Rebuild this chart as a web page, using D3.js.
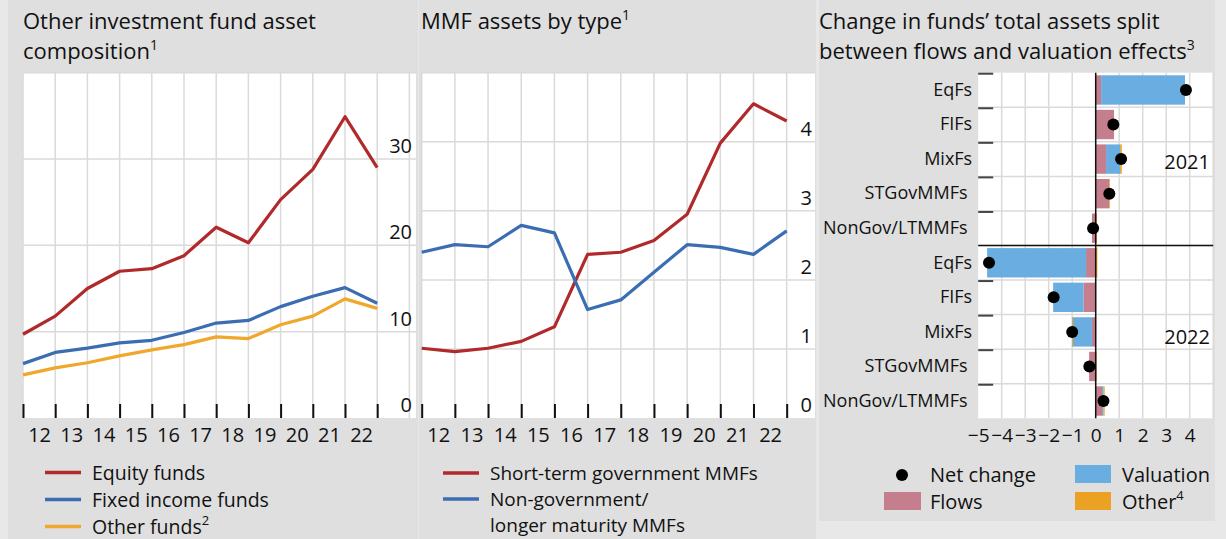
<!DOCTYPE html>
<html>
<head>
<meta charset="utf-8">
<script src="https://cdn.jsdelivr.net/npm/d3@7"></script>
<style>
  body { margin: 0; background: #e8e8e8; }
  svg text { font-family: "Open Sans", sans-serif; fill: #111; }
</style>
</head>
<body>
<script>
// year labels (12 points = end 2011 .. end 2022, labels sit between them)
const years = ['12', '13', '14', '15', '16', '17', '18', '19', '20', '21', '22']

// panel 1, USD trn
const equityFunds = [9.7, 11.8, 15.0, 17.0, 17.3, 18.8, 22.1, 20.3, 25.3, 28.8, 34.9, 29.0]
const fixedIncomeFunds = [6.3, 7.6, 8.1, 8.7, 9.0, 9.9, 11.0, 11.3, 12.9, 14.1, 15.1, 13.3]
const otherFunds = [5.0, 5.8, 6.4, 7.2, 7.9, 8.5, 9.4, 9.2, 10.8, 11.8, 13.8, 12.7]
const ticks1 = [0, 10, 20, 30]

// panel 2, USD trn
const stGovMMFs = [1.01, 0.96, 1.01, 1.11, 1.32, 2.37, 2.40, 2.57, 2.95, 3.98, 4.55, 4.30]
const nonGovMMFs = [2.40, 2.51, 2.48, 2.79, 2.68, 1.57, 1.71, 2.11, 2.51, 2.47, 2.37, 2.71]
const ticks2 = [0, 1, 2, 3, 4]

// panel 3, USD trn
const fundTypes = ['EqFs', 'FIFs', 'MixFs', 'STGovMMFs ', 'NonGov/LTMMFs ']
const flows2021 = [0.23, 0.78, 0.44, 0.58, -0.16]
const valuation2021 = [3.57, 0, 0.60, 0, 0]
const other2021 = [0, 0, 0.07, 0.03, 0.05]
const net2021 = [3.84, 0.75, 1.08, 0.58, -0.11]
const flows2022 = [-0.41, -0.52, -0.16, -0.28, 0.27]
const valuation2022 = [-4.21, -1.29, -0.81, 0, 0.06]
const other2022 = [0.07, 0, -0.04, 0.04, 0.05]
const net2022 = [-4.54, -1.79, -1.0, -0.27, 0.33]
const ticks3 = [-5, -4, -3, -2, -1, 0, 1, 2, 3, 4]

const red = '#b0292b', blue = '#3a6db2', orange = '#f0a82c'
const cFlows = '#c47e8e', cVal = '#6aade0', cOther = '#eba124'
const grid = '#dadada'

const svg = d3.select('body').append('svg')
  .attr('width', 1226).attr('height', 539)

svg.append('rect').attr('width', 1226).attr('height', 539).attr('fill', '#e8e8e8')
svg.append('rect').attr('x', 8).attr('y', 0).attr('width', 410).attr('height', 539).attr('fill', '#dfdfdf')
svg.append('rect').attr('x', 419).attr('y', 0).attr('width', 397).attr('height', 539).attr('fill', '#dfdfdf')
svg.append('rect').attr('x', 819).attr('y', 0).attr('width', 396).attr('height', 521).attr('fill', '#dfdfdf')

// titles: one text per line
function title(x, lines, sup) {
  lines.forEach((l, i) => {
    const t = svg.append('text').attr('x', x).attr('y', 29 + i * 30).style('font-size', '22px').text(l)
    if (i === lines.length - 1) {
      t.append('tspan').attr('dy', -9).style('font-size', '14px').text(sup)
    }
  })
}
title(23, ['Other investment fund asset', 'composition'], '1')
title(421, ['MMF assets by type'], '1')
title(819, ['Change in funds\u2019 total assets split', 'between flows and valuation effects'], '3')

// line panels
function linePanel(opt) {
  const g = svg.append('g')
  const x = d3.scaleLinear().domain([0, 12]).range([opt.x0, opt.x0 + 12 * opt.step])
  const y = d3.scaleLinear().domain([0, opt.max]).range([418, 72.7])

  g.append('rect').attr('x', opt.x0).attr('y', 72.7)
    .attr('width', opt.right - opt.x0).attr('height', 418 - 72.7).attr('fill', '#fff')

  const xs = d3.range(0, 13).filter(i => x(i) <= opt.right)
  g.selectAll('.vg').data(xs).join('line')
    .attr('x1', d => x(d)).attr('x2', d => x(d))
    .attr('y1', 72.7).attr('y2', 418).attr('stroke', grid).attr('stroke-width', 1.5)
  g.selectAll('.hg').data(d3.range(opt.gstep, opt.max + 0.01, opt.gstep)).join('line')
    .attr('x1', opt.x0).attr('x2', opt.right)
    .attr('y1', d => y(d)).attr('y2', d => y(d)).attr('stroke', grid).attr('stroke-width', 1.5)

  // black ticks inside the plot
  g.append('g').attr('transform', 'translate(0,418)')
    .call(d3.axisTop(x).tickValues(d3.range(0, 12)).tickSize(14).tickFormat(''))
    .call(a => a.select('.domain').remove())
    .call(a => a.selectAll('line').attr('stroke', '#111').attr('stroke-width', 2))

  // year labels between ticks
  g.append('g').attr('transform', 'translate(0,418)')
    .call(d3.axisBottom(x).tickValues(d3.range(0, 11).map(i => i + 0.5))
      .tickSize(0).tickPadding(10).tickFormat((d, i) => years[i]))
    .call(a => a.select('.domain').remove())
    .call(a => a.selectAll('text').style('font-size', '20px'))

  // y labels, right side, just above the gridlines
  g.append('g').attr('transform', `translate(${opt.labelX},0)`)
    .call(d3.axisLeft(y).tickValues(opt.ticks).tickSize(0).tickPadding(0).tickFormat(d3.format('d')))
    .call(a => a.select('.domain').remove())
    .call(a => a.selectAll('text').attr('dy', '-0.32em').style('font-size', '20px'))

  const line = d3.line().x((d, i) => x(i)).y(d => y(d))
  opt.series.forEach(s => {
    g.append('path').datum(s.values).attr('d', line)
      .attr('fill', 'none').attr('stroke', s.color).attr('stroke-width', 3.2)
      .attr('stroke-linejoin', 'round')
  })

  // legend, one text per line
  const lg = g.append('g')
  opt.legend.forEach(l => {
    lg.append('line').attr('x1', opt.legX).attr('x2', opt.legX + 36)
      .attr('y1', l.y).attr('y2', l.y).attr('stroke', l.color).attr('stroke-width', 3.5)
    l.lines.forEach((txt, i) => {
      const t = lg.append('text').attr('x', opt.legX + 47).attr('y', l.y + 7 + i * opt.legLine)
        .style('font-size', opt.legFont).text(txt)
      if (l.sup) t.append('tspan').attr('dy', -9).style('font-size', '13px').text(l.sup)
    })
  })
}

linePanel({
  x0: 23, step: 32.2, right: 416, max: 40, gstep: 10, ticks: ticks1, labelX: 412,
  series: [
    { values: equityFunds, color: red },
    { values: fixedIncomeFunds, color: blue },
    { values: otherFunds, color: orange }
  ],
  legX: 45, legFont: '19.5px', legLine: 27,
  legend: [
    { y: 472.5, color: red, lines: ['Equity funds'] },
    { y: 499.5, color: blue, lines: ['Fixed income funds'] },
    { y: 526.5, color: orange, lines: ['Other funds'], sup: '2' }
  ]
})

linePanel({
  x0: 421.7, step: 33.18, right: 815, max: 5, gstep: 1, ticks: ticks2, labelX: 812,
  series: [
    { values: stGovMMFs, color: red },
    { values: nonGovMMFs, color: blue }
  ],
  legX: 443, legFont: '19px', legLine: 26,
  legend: [
    { y: 473, color: red, lines: ['Short-term government MMFs'] },
    { y: 499, color: blue, lines: ['Non-government/', 'longer maturity MMFs'] }
  ]
})

// panel 3: stacked diverging bars
const rows = []
fundTypes.forEach((f, i) => rows.push({ id: '2021|' + i, label: f, flows: flows2021[i], valuation: valuation2021[i], other: other2021[i], net: net2021[i] }))
fundTypes.forEach((f, i) => rows.push({ id: '2022|' + i, label: f, flows: flows2022[i], valuation: valuation2022[i], other: other2022[i], net: net2022[i] }))

const x3 = d3.scaleLinear().domain([-5, 5]).range([978.2, 1213.2])
const y3 = d3.scaleBand().domain(rows.map(d => d.id)).range([72.7, 418.3]).paddingInner(0.15).paddingOuter(0.075)
const g3 = svg.append('g')

g3.append('rect').attr('x', x3(-5)).attr('y', 72.7).attr('width', x3(5) - x3(-5)).attr('height', 418.3 - 72.7).attr('fill', '#fff')

g3.selectAll('.vg').data(d3.range(-4, 6)).join('line')
  .attr('x1', d => x3(d)).attr('x2', d => x3(d)).attr('y1', 72.7).attr('y2', 418.3)
  .attr('stroke', grid).attr('stroke-width', 1.5)

const bounds = d3.range(1, rows.length).map(i => y3.range()[0] + i * y3.step())
g3.selectAll('.hg').data(bounds).join('line')
  .attr('x1', x3(-5)).attr('x2', x3(5)).attr('y1', d => d).attr('y2', d => d)
  .attr('stroke', grid).attr('stroke-width', 1.5)

const series = d3.stack().keys(['flows', 'valuation', 'other']).offset(d3.stackOffsetDiverging)(rows)
const colors = { flows: cFlows, valuation: cVal, other: cOther }
g3.selectAll('.ser').data(series).join('g').attr('fill', d => colors[d.key])
  .selectAll('rect').data(d => d).join('rect')
  .attr('x', d => x3(Math.min(d[0], d[1])))
  .attr('width', d => Math.abs(x3(d[1]) - x3(d[0])))
  .attr('y', d => y3(d.data.id)).attr('height', y3.bandwidth())

// separator between years and zero line
g3.append('line').attr('x1', x3(-5)).attr('x2', x3(5))
  .attr('y1', bounds[4]).attr('y2', bounds[4]).attr('stroke', '#111').attr('stroke-width', 1.5)
g3.append('line').attr('x1', x3(0)).attr('x2', x3(0)).attr('y1', 72.7).attr('y2', 418.3)
  .attr('stroke', '#111').attr('stroke-width', 1.5)

// short row-boundary ticks at the left edge
g3.selectAll('.rt').data([72.7].concat(bounds.filter((d, i) => i !== 4))).join('line')
  .attr('x1', x3(-5)).attr('x2', x3(-5) + 15).attr('y1', d => d + 1).attr('y2', d => d + 1)
  .attr('stroke', '#444').attr('stroke-width', 2)

g3.selectAll('.dot').data(rows).join('circle')
  .attr('cx', d => x3(d.net)).attr('cy', d => y3(d.id) + y3.bandwidth() / 2)
  .attr('r', 6).attr('fill', '#000')

g3.append('g').attr('transform', `translate(${x3(-5) - 6},0)`)
  .call(d3.axisLeft(y3).tickSize(0).tickPadding(0).tickFormat(id => rows.find(r => r.id === id).label))
  .call(a => a.select('.domain').remove())
  .call(a => a.selectAll('text').style('font-size', '18px').style('white-space', 'pre'))

g3.append('g').attr('transform', 'translate(0,418.3)')
  .call(d3.axisBottom(x3).tickValues(ticks3).tickSize(0).tickPadding(10).tickFormat(d => d < 0 ? '\u2212' + Math.abs(d) : d))
  .call(a => a.select('.domain').remove())
  .call(a => a.selectAll('text').style('font-size', '19px'))

g3.append('text').attr('x', 1210).attr('y', 169).attr('text-anchor', 'end').style('font-size', '20px').text('2021')
g3.append('text').attr('x', 1210).attr('y', 344).attr('text-anchor', 'end').style('font-size', '20px').text('2022')

// legend panel 3
const lg3 = svg.append('g')
lg3.append('circle').attr('cx', 902).attr('cy', 475).attr('r', 6).attr('fill', '#000')
lg3.append('text').attr('x', 930).attr('y', 482).style('font-size', '20px').text('Net change')
lg3.append('rect').attr('x', 1075).attr('y', 465).attr('width', 36).attr('height', 18).attr('fill', cVal)
lg3.append('text').attr('x', 1122).attr('y', 482).style('font-size', '20px').text('Valuation')
lg3.append('rect').attr('x', 884).attr('y', 492).attr('width', 37).attr('height', 18).attr('fill', cFlows)
lg3.append('text').attr('x', 930).attr('y', 509).style('font-size', '20px').text('Flows')
lg3.append('rect').attr('x', 1075).attr('y', 492).attr('width', 36).attr('height', 18).attr('fill', cOther)
const ot = lg3.append('text').attr('x', 1122).attr('y', 509).style('font-size', '20px').text('Other')
ot.append('tspan').attr('dy', -9).style('font-size', '13px').text('4')
</script>
</body>
</html>
